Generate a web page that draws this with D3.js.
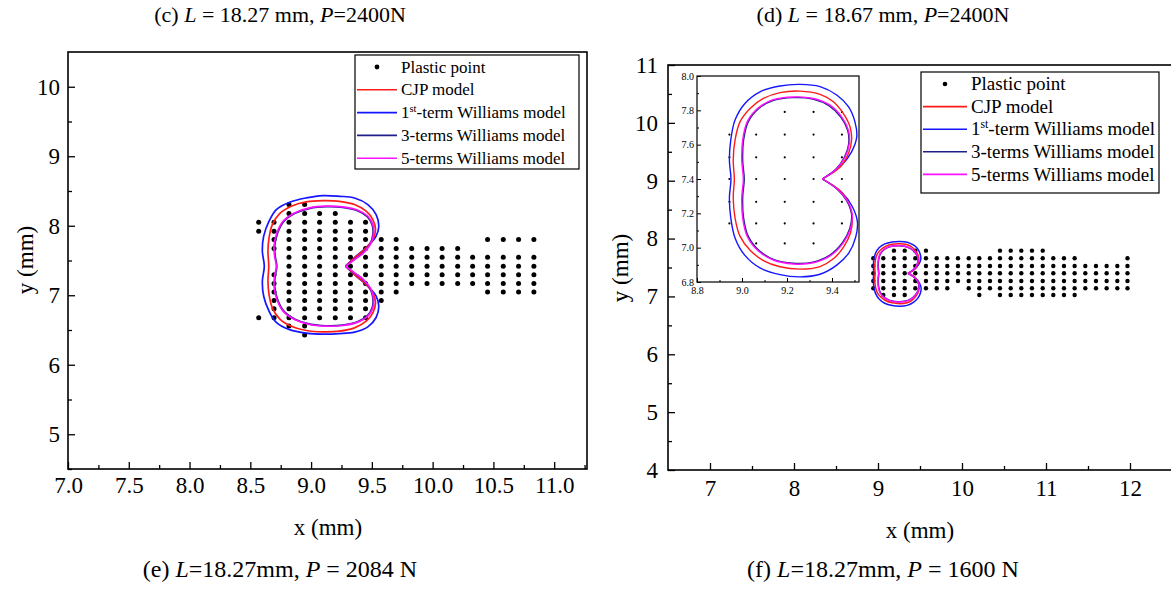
<!DOCTYPE html>
<html><head><meta charset="utf-8">
<script src="https://cdn.jsdelivr.net/npm/d3@7"></script>
<style>body{margin:0;background:#fff}svg{display:block}svg text{font-family:"Liberation Serif","Times New Roman",Times,serif}</style>
</head><body>
<svg id="c" width="1171" height="596"></svg>
<script>
// ---------- (e) left panel data ----------
const eColX = [8.569, 8.695, 8.818, 8.947, 9.070, 9.199, 9.324, 9.448, 9.577, 9.700, 9.828, 9.954, 10.078, 10.206, 10.329, 10.452, 10.581, 10.707, 10.833];
const eRowY = [8.305, 8.175, 8.050, 7.921, 7.802, 7.672, 7.547, 7.418, 7.295, 7.170, 7.045, 6.925, 6.806, 6.677, 6.556, 6.427];
const eCols = [
  [2,3,13],
  [2,3,4,5,8,9,10,11,12,13],
  [0,1,2,3,4,5,6,7,8,9,10,11,12,13,14],
  [0,1,2,3,4,5,6,7,8,9,10,11,12,13,14,15],
  [1,2,3,4,5,6,7,8,9,10,11,12,13],
  [1,2,3,4,5,6,7,8,9,10,11,12,13],
  [2,3,4,5,6,7,8,9,10,11,12,13],
  [2,3,4,5,6,7,8,9,10,11,12,13],
  [4,5,6,7,8,9,10,11],
  [4,5,6,7,8,9,10],
  [5,6,7,8,9],
  [5,6,7,8,9],
  [5,6,7,8,9],
  [5,6,7,8,9],
  [6,7,8,9],
  [4,6,7,8,9,10],
  [4,6,7,8,9,10],
  [4,6,7,8,9,10],
  [4,6,7,8,9,10]
];
const eCJP = [[9.283,7.418],[9.357,7.538],[9.439,7.658],[9.508,7.802],[9.530,7.945],[9.508,8.089],[9.453,8.209],[9.357,8.305],[9.234,8.352],[9.097,8.362],[8.960,8.343],[8.837,8.281],[8.741,8.175],[8.681,8.017],[8.654,7.826],[8.645,7.634],[8.652,7.418],
  [8.645,7.202],[8.654,7.010],[8.681,6.819],[8.741,6.661],[8.837,6.555],[8.960,6.493],[9.097,6.474],[9.234,6.484],[9.357,6.531],[9.453,6.627],[9.508,6.747],[9.530,6.891],[9.508,7.034],[9.439,7.178],[9.357,7.298],[9.283,7.418]];
const eW1 = [[9.283,7.418],[9.371,7.562],[9.467,7.706],[9.535,7.850],[9.557,7.993],[9.535,8.161],[9.467,8.305],[9.357,8.400],[9.234,8.424],[9.097,8.434],[8.960,8.400],[8.823,8.338],[8.714,8.233],[8.654,8.065],[8.610,7.850],[8.599,7.634],[8.615,7.418],
  [8.599,7.202],[8.610,6.986],[8.654,6.771],[8.714,6.610],[8.823,6.505],[8.960,6.455],[9.097,6.440],[9.234,6.448],[9.357,6.470],[9.467,6.545],[9.535,6.680],[9.557,6.843],[9.535,6.986],[9.467,7.130],[9.371,7.274],[9.283,7.418]];
const eW3 = [[9.283,7.418],[9.352,7.510],[9.425,7.606],[9.481,7.726],[9.508,7.870],[9.503,8.012],[9.462,8.131],[9.381,8.217],[9.260,8.265],[9.125,8.275],[8.990,8.251],[8.868,8.180],[8.774,8.060],[8.724,7.894],[8.700,7.704],[8.705,7.562],[8.718,7.418],
  [8.705,7.274],[8.700,7.132],[8.724,6.942],[8.774,6.776],[8.868,6.656],[8.990,6.585],[9.125,6.561],[9.260,6.571],[9.381,6.619],[9.462,6.705],[9.503,6.824],[9.508,6.966],[9.481,7.110],[9.425,7.230],[9.352,7.326],[9.283,7.418]];
const eW5 = [[9.283,7.418],[9.357,7.514],[9.431,7.610],[9.486,7.730],[9.513,7.874],[9.508,8.017],[9.467,8.137],[9.385,8.223],[9.262,8.271],[9.125,8.281],[8.988,8.257],[8.864,8.185],[8.769,8.065],[8.719,7.898],[8.695,7.706],[8.700,7.562],[8.714,7.418],
  [8.700,7.274],[8.695,7.130],[8.719,6.938],[8.769,6.771],[8.864,6.651],[8.988,6.579],[9.125,6.555],[9.262,6.565],[9.385,6.613],[9.467,6.699],[9.508,6.819],[9.513,6.962],[9.486,7.106],[9.431,7.226],[9.357,7.322],[9.283,7.418]];
const eXTicks = [7.0, 7.5, 8.0, 8.5, 9.0, 9.5, 10.0, 10.5, 11.0];
const eXMinor = [7.25, 7.75, 8.25, 8.75, 9.25, 9.75, 10.25, 10.75, 11.25];
const eYTicks = [5, 6, 7, 8, 9, 10];
const eYMinor = [4.5, 5.5, 6.5, 7.5, 8.5, 9.5];

// ---------- (f) right panel data ----------
const fColX = [8.944, 9.063, 9.190, 9.318, 9.444, 9.571, 9.699, 9.825, 9.952, 10.080, 10.206, 10.333, 10.452, 10.580, 10.706, 10.833, 10.961, 11.087, 11.214, 11.341, 11.468, 11.595, 11.722, 11.849, 11.970];
const fRowY = [7.791, 7.659, 7.526, 7.400, 7.267, 7.141, 7.025];
const fCols = [
  [1,2,3,4,5],[1,2,3,4,5,6],[0,1,2,3,4,5,6],[0,1,2,3,4,5,6],[0,1,2,3,4,5],
  [0,1,2,3,4,5],[1,2,3,4,5],[1,2,3,4,5],[1,2,3,4],[1,2,3,4,5],
  [1,2,3,4,5,6],[1,2,3,4,5],[0,1,2,3,4,5,6],[0,1,2,3,4,5,6],[0,1,2,3,4,5,6],
  [0,1,2,3,4,5,6],[0,1,2,3,4,5,6],[1,2,3,4,5,6],[1,2,3,4,5,6],[1,2,3,4,5,6],
  [2,3,4,5],[2,3,4,5],[2,3,4,5],[2,3,4,5],[1,2,3,4,5]
];
const fCJP = [[9.357,7.400],[9.436,7.470],[9.473,7.548],[9.487,7.626],[9.480,7.704],[9.450,7.782],[9.406,7.850],[9.347,7.893],[9.258,7.912],[9.169,7.903],[9.095,7.869],[9.036,7.811],[8.991,7.733],[8.969,7.626],[8.961,7.509],[8.966,7.400],
  [8.961,7.291],[8.969,7.174],[8.991,7.067],[9.036,6.985],[9.095,6.925],[9.169,6.889],[9.258,6.875],[9.347,6.890],[9.406,6.935],[9.452,7.005],[9.482,7.085],[9.490,7.170],[9.476,7.250],[9.438,7.330],[9.357,7.400]];
const fW1 = [[9.357,7.400],[9.443,7.480],[9.487,7.558],[9.510,7.645],[9.502,7.733],[9.473,7.821],[9.421,7.889],[9.347,7.938],[9.258,7.951],[9.169,7.942],[9.080,7.908],[9.013,7.840],[8.969,7.743],[8.950,7.626],[8.944,7.509],[8.951,7.400],
  [8.944,7.291],[8.950,7.174],[8.969,7.057],[9.013,6.955],[9.080,6.882],[9.169,6.843],[9.258,6.830],[9.347,6.845],[9.421,6.898],[9.475,6.970],[9.505,7.060],[9.513,7.150],[9.490,7.240],[9.445,7.320],[9.357,7.400]];
const fW3 = [[9.357,7.400],[9.418,7.458],[9.455,7.526],[9.474,7.604],[9.470,7.682],[9.440,7.759],[9.388,7.826],[9.315,7.866],[9.228,7.874],[9.140,7.858],[9.076,7.812],[9.028,7.734],[9.007,7.626],[9.003,7.509],[9.010,7.400],
  [9.003,7.291],[9.007,7.174],[9.028,7.066],[9.076,6.983],[9.140,6.932],[9.228,6.909],[9.315,6.915],[9.392,6.958],[9.447,7.030],[9.479,7.112],[9.487,7.196],[9.465,7.274],[9.422,7.342],[9.357,7.400]];
const fW5 = [[9.357,7.400],[9.421,7.460],[9.458,7.528],[9.477,7.606],[9.473,7.684],[9.443,7.762],[9.391,7.830],[9.317,7.869],[9.228,7.878],[9.139,7.862],[9.073,7.815],[9.024,7.736],[9.003,7.626],[8.999,7.509],[9.006,7.400],
  [8.999,7.291],[9.003,7.174],[9.024,7.064],[9.073,6.980],[9.139,6.928],[9.228,6.905],[9.317,6.912],[9.395,6.955],[9.450,7.028],[9.482,7.110],[9.490,7.194],[9.468,7.272],[9.425,7.340],[9.357,7.400]];
const fXTicks = [7, 8, 9, 10, 11, 12];
const fXMinor = [7.5, 8.5, 9.5, 10.5, 11.5, 12.5];
const fYTicks = [4, 5, 6, 7, 8, 9, 10, 11];
const fYMinor = [4.5, 5.5, 6.5, 7.5, 8.5, 9.5, 10.5];
const inXTicks = [8.8, 9.0, 9.2, 9.4];
const inXMinor = [8.9, 9.1, 9.3, 9.5];
const inYTicks = [6.8, 7.0, 7.2, 7.4, 7.6, 7.8, 8.0];
const inYMinor = [6.9, 7.1, 7.3, 7.5, 7.7, 7.9];

const legendLabels = ["Plastic point", "CJP model", "1st-term Williams model", "3-terms Williams model", "5-terms Williams model"];
const seriesColors = {cjp: "#ff1a1a", w1: "#1515ff", w3: "#1f1f8a", w5: "#ff10ff"};

// ---------- drawing ----------
const SERIF = "Liberation Serif";
const svg = d3.select("#c").attr("font-family", SERIF);
svg.append("rect").attr("width", 1171).attr("height", 596).attr("fill", "#fff");

function toPoints(colX, rowY, cols) {
  const pts = [];
  cols.forEach((rows, i) => rows.forEach(r => pts.push([colX[i], rowY[r]])));
  return pts;
}

function axes(g, x, y, o) {
  const [x0, x1] = x.range(), [y0, y1] = y.range();
  const a = g.append("g");
  a.append("g").attr("transform", `translate(0,${y0})`)
    .call(d3.axisBottom(x).tickValues(o.xt).tickSize(-o.maj).tickPadding(o.xpad).tickFormat(o.xf));
  a.append("g").attr("transform", `translate(0,${y0})`)
    .call(d3.axisBottom(x).tickValues(o.xm).tickSize(-o.min).tickFormat(""));
  a.append("g").attr("transform", `translate(${x0},0)`)
    .call(d3.axisLeft(y).tickValues(o.yt).tickSize(-o.maj).tickPadding(o.ypad).tickFormat(o.yf));
  a.append("g").attr("transform", `translate(${x0},0)`)
    .call(d3.axisLeft(y).tickValues(o.ym).tickSize(-o.min).tickFormat(""));
  a.selectAll(".domain").remove();
  a.selectAll("g").attr("font-family", SERIF).attr("font-size", o.fs);
  a.selectAll(".tick line").attr("stroke", "#000").attr("stroke-width", o.tw);
  a.selectAll(".tick text").attr("fill", "#000").attr("font-family", SERIF).attr("font-size", o.fs);
  a.append("rect").attr("x", x0).attr("y", y1).attr("width", x1 - x0).attr("height", y0 - y1)
    .attr("fill", "none").attr("stroke", "#000").attr("stroke-width", o.fw);
}

function curves(g, x, y, list, sw) {
  const line = d3.line().x(d => x(d[0])).y(d => y(d[1])).curve(d3.curveCatmullRom.alpha(0.5));
  list.forEach(([data, col]) => {
    g.append("path").attr("d", line(data)).attr("fill", "none").attr("stroke", col).attr("stroke-width", sw);
  });
}

function dots(g, x, y, pts, r) {
  g.selectAll(null).data(pts).enter().append("circle")
    .attr("cx", d => x(d[0])).attr("cy", d => y(d[1])).attr("r", r).attr("fill", "#000");
}

function legend(g, x, y, w, h, step, fs, lineLen, dotR) {
  g.append("rect").attr("x", x).attr("y", y).attr("width", w).attr("height", h)
    .attr("fill", "#fff").attr("stroke", "#000").attr("stroke-width", 1.2);
  const cols = [null, seriesColors.cjp, seriesColors.w1, seriesColors.w3, seriesColors.w5];
  legendLabels.forEach((lab, i) => {
    const cy = y + 12 + i * step;
    if (i === 0) g.append("circle").attr("cx", x + 2 + lineLen / 2).attr("cy", cy).attr("r", dotR).attr("fill", "#000");
    else g.append("line").attr("x1", x + 2).attr("x2", x + 2 + lineLen).attr("y1", cy).attr("y2", cy)
      .attr("stroke", cols[i]).attr("stroke-width", 1.6);
    const t = g.append("text").attr("x", x + lineLen + 6).attr("y", cy + fs * 0.33).attr("font-size", fs).attr("fill", "#000");
    if (lab.startsWith("1st")) {
      t.append("tspan").text("1");
      t.append("tspan").text("st").attr("font-size", fs * 0.62).attr("dy", -fs * 0.38);
      t.append("tspan").text(lab.slice(3)).attr("dy", fs * 0.38);
    } else t.text(lab);
  });
}

function richText(x, y, fs, parts) {
  const t = svg.append("text").attr("x", x).attr("y", y).attr("text-anchor", "middle")
    .attr("font-size", fs).attr("fill", "#000");
  parts.forEach(p => t.append("tspan").text(p[0]).attr("font-style", p[1] ? "italic" : "normal"));
}

// Titles
richText(280, 22, 22, [["(c) ", 0], ["L", 1], [" = 18.27 mm, ", 0], ["P", 1], ["=2400N", 0]]);
richText(883, 22, 22, [["(d) ", 0], ["L", 1], [" = 18.67 mm, ", 0], ["P", 1], ["=2400N", 0]]);

// ----- left panel -----
{
  const x = d3.scaleLinear().domain([7.0, 11.27]).range([68, 587]);
  const y = d3.scaleLinear().domain([4.5, 10.5]).range([469, 52]);
  const g = svg.append("g");
  svg.append("clipPath").attr("id", "clipE").append("rect").attr("x", 68).attr("y", 52).attr("width", 519).attr("height", 417);
  const p = g.append("g").attr("clip-path", "url(#clipE)");
  dots(p, x, y, toPoints(eColX, eRowY, eCols), 2.5);
  curves(p, x, y, [[eW1, seriesColors.w1], [eCJP, seriesColors.cjp], [eW3, seriesColors.w3], [eW5, seriesColors.w5]], 1.7);
  axes(g, x, y, {xt: eXTicks, xm: eXMinor, yt: eYTicks, ym: eYMinor, maj: 7, min: 4, xpad: 8, ypad: 8,
    xf: d3.format(".1f"), yf: d3.format("d"), fs: 23, tw: 1.3, fw: 1.6});
  legend(g, 355, 55, 224, 114, 22.8, 17, 40, 2.4);
  svg.append("text").attr("x", 328).attr("y", 535).attr("text-anchor", "middle").attr("font-size", 23).text("x (mm)");
  svg.append("text").attr("transform", "translate(33,260) rotate(-90)").attr("text-anchor", "middle").attr("font-size", 23).text("y (mm)");
}

// ----- right panel -----
{
  const x = d3.scaleLinear().domain([6.5, 12.5]).range([668, 1172]);
  const y = d3.scaleLinear().domain([4, 11]).range([470, 65]);
  const g = svg.append("g");
  svg.append("clipPath").attr("id", "clipF").append("rect").attr("x", 668).attr("y", 65).attr("width", 504).attr("height", 405);
  const p = g.append("g").attr("clip-path", "url(#clipF)");
  dots(p, x, y, toPoints(fColX, fRowY, fCols), 2.2);
  curves(p, x, y, [[fW1, seriesColors.w1], [fCJP, seriesColors.cjp], [fW3, seriesColors.w3], [fW5, seriesColors.w5]], 1.5);
  axes(g, x, y, {xt: fXTicks, xm: fXMinor, yt: fYTicks, ym: fYMinor, maj: 7, min: 4, xpad: 10, ypad: 10,
    xf: d3.format("d"), yf: d3.format("d"), fs: 23, tw: 1.3, fw: 1.6});

  // inset
  const ix = d3.scaleLinear().domain([8.8, 9.52]).range([697, 859]);
  const iy = d3.scaleLinear().domain([6.8, 8.0]).range([282, 76]);
  const gi = svg.append("g");
  gi.append("rect").attr("x", 697).attr("y", 76).attr("width", 162).attr("height", 206).attr("fill", "#fff");
  svg.append("clipPath").attr("id", "clipI").append("rect").attr("x", 697).attr("y", 76).attr("width", 162).attr("height", 206);
  const pi = gi.append("g").attr("clip-path", "url(#clipI)");
  dots(pi, ix, iy, toPoints(fColX, fRowY, fCols), 1.1);
  curves(pi, ix, iy, [[fW1, seriesColors.w1], [fCJP, seriesColors.cjp], [fW3, seriesColors.w3], [fW5, seriesColors.w5]], 1.4);
  axes(gi, ix, iy, {xt: inXTicks, xm: inXMinor, yt: inYTicks, ym: inYMinor, maj: 4, min: 2, xpad: 5, ypad: 3,
    xf: d3.format(".1f"), yf: d3.format(".1f"), fs: 10, tw: 1, fw: 1.2});

  legend(g, 921, 72, 238, 121, 22.6, 19, 44, 2.3);
  svg.append("text").attr("x", 920).attr("y", 538).attr("text-anchor", "middle").attr("font-size", 23).text("x (mm)");
  svg.append("text").attr("transform", "translate(628,268) rotate(-90)").attr("text-anchor", "middle").attr("font-size", 23).text("y (mm)");
}

// Captions
richText(280, 577, 24, [["(e) ", 0], ["L", 1], ["=18.27mm, ", 0], ["P", 1], [" = 2084 N", 0]]);
richText(883, 577, 24, [["(f) ", 0], ["L", 1], ["=18.27mm, ", 0], ["P", 1], [" = 1600 N", 0]]);
</script>
</body></html>
